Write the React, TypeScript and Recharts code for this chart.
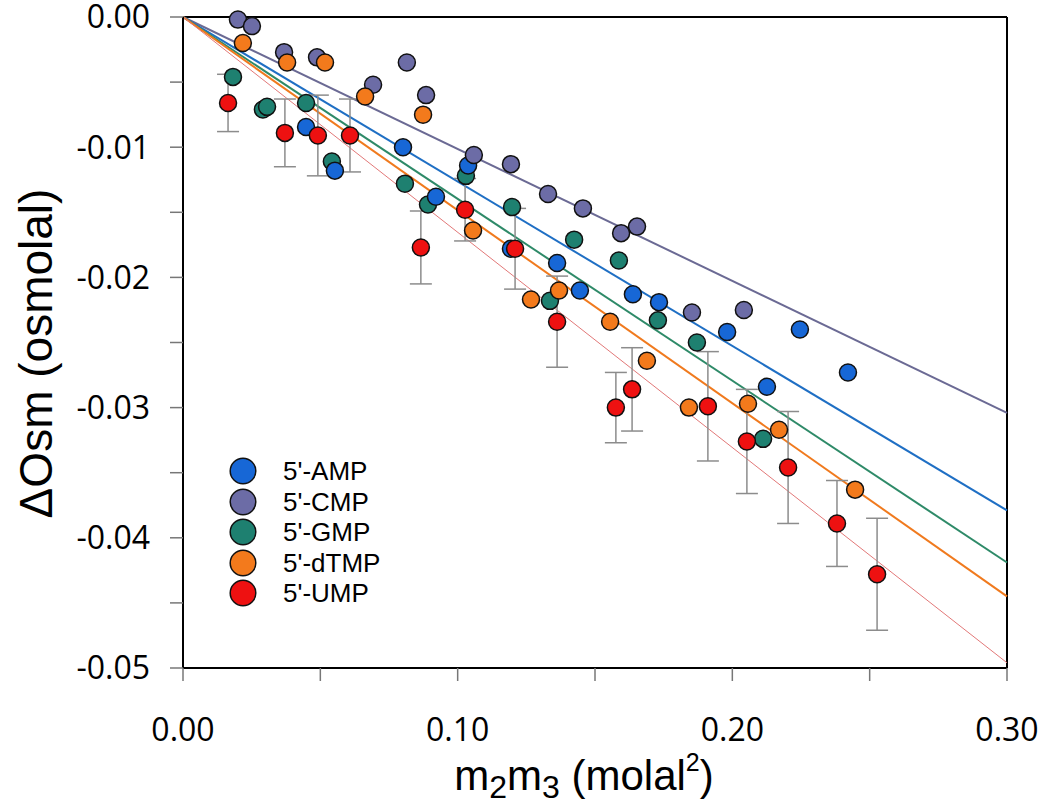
import React from 'react';
import {
  ComposedChart,
  Scatter,
  Line,
  XAxis,
  YAxis,
  ErrorBar,
  ReferenceLine,
  Legend
} from 'recharts';

const amp = [
  { x: 0.0448, y: -0.00845 }, { x: 0.0553, y: -0.0118 }, { x: 0.0801, y: -0.0100 },
  { x: 0.0921, y: -0.0138 }, { x: 0.1038, y: -0.0114 }, { x: 0.1194, y: -0.0178 },
  { x: 0.1362, y: -0.0189 }, { x: 0.1445, y: -0.0210 }, { x: 0.1638, y: -0.0213 },
  { x: 0.1733, y: -0.0219 }, { x: 0.1981, y: -0.0242 }, { x: 0.2126, y: -0.0284 },
  { x: 0.2246, y: -0.0240 }, { x: 0.2421, y: -0.0273 }
];

const cmp = [
  { x: 0.0200, y: -0.0002 }, { x: 0.0251, y: -0.0007 }, { x: 0.0368, y: -0.0027 },
  { x: 0.0488, y: -0.0031 }, { x: 0.0692, y: -0.0052 }, { x: 0.0815, y: -0.0035 },
  { x: 0.0885, y: -0.0060 }, { x: 0.1059, y: -0.0106 }, { x: 0.1194, y: -0.0113 },
  { x: 0.1329, y: -0.0136 }, { x: 0.1456, y: -0.0147 }, { x: 0.1595, y: -0.0166 },
  { x: 0.1653, y: -0.0161 }, { x: 0.1853, y: -0.0227 }, { x: 0.2042, y: -0.0225 }
];

const gmp = [
  { x: 0.0182, y: -0.0046 }, { x: 0.0291, y: -0.0071 }, { x: 0.0306, y: -0.0069 },
  { x: 0.0448, y: -0.0066 }, { x: 0.0542, y: -0.0111 }, { x: 0.0808, y: -0.0128 },
  { x: 0.0892, y: -0.0144 }, { x: 0.1030, y: -0.0122 }, { x: 0.1198, y: -0.0146 },
  { x: 0.1336, y: -0.0218 }, { x: 0.1424, y: -0.0171 }, { x: 0.1587, y: -0.0187 },
  { x: 0.1729, y: -0.0233 }, { x: 0.1871, y: -0.0250 }, { x: 0.2112, y: -0.0324 }
];

const dtmp = [
  { x: 0.0218, y: -0.0020 }, { x: 0.0379, y: -0.0035 }, { x: 0.0517, y: -0.0035 },
  { x: 0.0663, y: -0.0061 }, { x: 0.0874, y: -0.0075 }, { x: 0.1056, y: -0.0164 },
  { x: 0.1267, y: -0.0217 }, { x: 0.1369, y: -0.0210 }, { x: 0.1555, y: -0.0234 },
  { x: 0.1689, y: -0.0264 }, { x: 0.1842, y: -0.0300 }, { x: 0.2057, y: -0.0297 },
  { x: 0.2170, y: -0.0317 }, { x: 0.2447, y: -0.0363 }
];

// UMP carries the error bars (e = half length)
const ump = [
  { x: 0.0164, y: -0.0066, e: 0.0022 }, { x: 0.0371, y: -0.0089, e: 0.0026 },
  { x: 0.0491, y: -0.0091, e: 0.0031 }, { x: 0.0608, y: -0.0091, e: 0.0028 },
  { x: 0.0866, y: -0.0177, e: 0.0028 }, { x: 0.1027, y: -0.0148, e: 0.0024 },
  { x: 0.1209, y: -0.0178, e: 0.0031 }, { x: 0.1362, y: -0.0234, e: 0.0035 },
  { x: 0.1576, y: -0.0300, e: 0.0027 }, { x: 0.1635, y: -0.0286, e: 0.0032 },
  { x: 0.1911, y: -0.0299, e: 0.0042 }, { x: 0.2053, y: -0.0326, e: 0.0040 },
  { x: 0.2203, y: -0.0346, e: 0.0043 }, { x: 0.2381, y: -0.0389, e: 0.0033 },
  { x: 0.2527, y: -0.0428, e: 0.0043 }
];

// fitted lines through the origin: value at x = 0.30
const fitX = [0, 0.3];
const fitEnd = { amp: -0.0379, cmp: -0.0304, gmp: -0.0419, dtmp: -0.0445, ump: -0.0496 };

const xTicks = [0, 0.05, 0.1, 0.15, 0.2, 0.25, 0.3];
const yTicks = [0, -0.005, -0.01, -0.015, -0.02, -0.025, -0.03, -0.035, -0.04, -0.045, -0.05];

const series = [
  { name: "5'-AMP", color: '#1767d6' },
  { name: "5'-CMP", color: '#6c6ca6' },
  { name: "5'-GMP", color: '#1e8070' },
  { name: "5'-dTMP", color: '#f37a1c' },
  { name: "5'-UMP", color: '#ee1111' }
];

const fitLine = (end: number) => fitX.map((x) => ({ x, y: (end / 0.3) * x }));

const Dot = (props: any) => (
  <circle cx={props.cx} cy={props.cy} r={8.5} fill={props.fill} stroke="#111" strokeWidth={1.5} />
);

// only every other tick gets a label
const fmtX = (v: number) => (Math.round(v * 100) % 10 === 0 ? v.toFixed(2) : '');
const fmtY = (v: number) => (Math.round(Math.abs(v) * 1000) % 10 === 0 ? v.toFixed(2) : '');

const YTitle = (props: any) => {
  const vb = props.viewBox;
  const cx = vb.x + 36;
  const cy = vb.y + vb.height / 2 + 11;
  return (
    <text
      x={cx}
      y={cy}
      transform={`rotate(-90 ${cx} ${cy})`}
      textAnchor="middle"
      dominantBaseline="central"
      fontFamily="Liberation Sans, Arial, sans-serif"
      fontSize={46}
      fill="#000"
    >
      ΔOsm (osmolal)
    </text>
  );
};

const XTitle = (props: any) => {
  const vb = props.viewBox;
  return (
    <text
      x={vb.x + vb.width / 2 - 11}
      y={vb.y + 122}
      textAnchor="middle"
      fontFamily="Liberation Sans, Arial, sans-serif"
      fontSize={42}
      fill="#000"
    >
      m<tspan dy={8} fontSize={32}>2</tspan>
      <tspan dy={-8}>m</tspan>
      <tspan dy={8} fontSize={32}>3</tspan>
      <tspan dy={-8}> (molal</tspan>
      <tspan dy={-19} fontSize={25}>2</tspan>
      <tspan dy={19}>)</tspan>
    </text>
  );
};

const LegendBox = () => (
  <div style={{ fontFamily: 'Liberation Sans, Arial, sans-serif', fontSize: 26, color: '#000' }}>
    {series.map((s) => (
      <div key={s.name} style={{ display: 'flex', alignItems: 'center', height: 30.5 }}>
        <svg width={28} height={28}>
          <circle cx={14} cy={14} r={12.8} fill={s.color} stroke="#111" strokeWidth={1.5} />
        </svg>
        <span style={{ marginLeft: 26, lineHeight: '30px' }}>{s.name}</span>
      </div>
    ))}
  </div>
);

export default function App() {
  return (
    <div style={{ position: 'absolute', left: 0, top: 0, background: '#fff' }}>
      <ComposedChart width={1050} height={805} margin={{ top: 17, right: 43, left: 0, bottom: 0 }}>
        <XAxis
          type="number"
          dataKey="x"
          domain={[0, 0.3]}
          ticks={xTicks}
          interval={0}
          tickFormatter={fmtX}
          tickSize={13}
          tickMargin={37}
          height={137}
          axisLine={{ stroke: '#000', strokeWidth: 2 }}
          tickLine={{ stroke: '#777', strokeWidth: 1.5 }}
          tick={{ fontFamily: 'Open Sans', fontSize: 32, fill: '#000' }}
          label={<XTitle />}
        />
        <YAxis
          type="number"
          dataKey="y"
          domain={[-0.05, 0]}
          ticks={yTicks}
          interval={0}
          tickFormatter={fmtY}
          tickSize={13}
          tickMargin={20}
          width={183}
          axisLine={{ stroke: '#000', strokeWidth: 2 }}
          tickLine={{ stroke: '#777', strokeWidth: 1.5 }}
          tick={{ fontFamily: 'Open Sans', fontSize: 32, fill: '#000' }}
          label={<YTitle />}
        />
        <ReferenceLine y={0} stroke="#000" strokeWidth={2} />
        <ReferenceLine x={0.3} stroke="#000" strokeWidth={2} />

        <Line data={fitLine(fitEnd.cmp)} dataKey="y" stroke="#6b6a94" strokeWidth={2} dot={false} isAnimationActive={false} legendType="none" />
        <Line data={fitLine(fitEnd.amp)} dataKey="y" stroke="#1f6fc4" strokeWidth={2} dot={false} isAnimationActive={false} legendType="none" />
        <Line data={fitLine(fitEnd.gmp)} dataKey="y" stroke="#2e8a68" strokeWidth={2} dot={false} isAnimationActive={false} legendType="none" />
        <Line data={fitLine(fitEnd.dtmp)} dataKey="y" stroke="#f07a1e" strokeWidth={2} dot={false} isAnimationActive={false} legendType="none" />
        <Line data={fitLine(fitEnd.ump)} dataKey="y" stroke="#e27878" strokeWidth={1} dot={false} isAnimationActive={false} legendType="none" />

        <Scatter data={gmp} dataKey="y" fill={series[2].color} shape={Dot} isAnimationActive={false} />
        <Scatter data={amp} dataKey="y" fill={series[0].color} shape={Dot} isAnimationActive={false} />
        <Scatter data={cmp} dataKey="y" fill={series[1].color} shape={Dot} isAnimationActive={false} />
        <Scatter data={dtmp} dataKey="y" fill={series[3].color} shape={Dot} isAnimationActive={false} />
        <Scatter data={ump} dataKey="y" fill={series[4].color} shape={Dot} isAnimationActive={false}>
          <ErrorBar dataKey="e" direction="y" width={11} stroke="#8c8c8c" strokeWidth={1.5} />
        </Scatter>

        <Legend
          layout="horizontal"
          align="center"
          verticalAlign="middle"
          content={<LegendBox />}
          wrapperStyle={{ left: 229, top: 456, width: 'auto', height: 'auto' }}
        />
      </ComposedChart>
    </div>
  );
}
